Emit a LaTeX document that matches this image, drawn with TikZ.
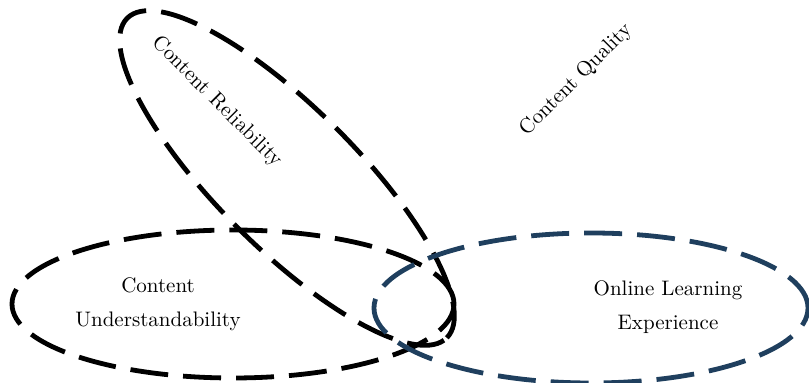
\documentclass[tikz,border=0pt]{standalone}
\usepackage{tikz}
\usetikzlibrary{shapes}
\definecolor{olblue}{RGB}{31,63,94}
\tikzstyle{blob} = [draw, ellipse, inner sep=0pt, line width=2.4pt, dash pattern=on 19pt off 7.5pt]
\tikzstyle{txt} = [font=\fontsize{10.5}{17}\selectfont, align=center]

\begin{document}
\begin{tikzpicture}[x=0.5pt,y=-0.5pt]
      \useasboundingbox (0,0) rectangle (809,383);

      % black ellipses
      \node[blob, minimum width=221pt, minimum height=74pt] (underst) at (233,304) {};
      \node[blob, minimum width=226pt, minimum height=70pt, rotate=-45] (reliab) at (287,178) {};

      % blue ellipse
      \node[blob, draw=olblue, minimum width=217pt, minimum height=75pt] (online) at (591,308) {};

      % texts
      \node[txt, rotate=-45] (reliabtxt) at (217,102) {Content Reliability};
      \node[txt, rotate=45] (quality) at (576,80) {Content Quality};
      \node[txt] (understtxt) at (158,304) {Content\\Understandability};
      \node[txt] (onlinetxt) at (668,307) {Online Learning\\Experience};
    \end{tikzpicture}
\end{document}
